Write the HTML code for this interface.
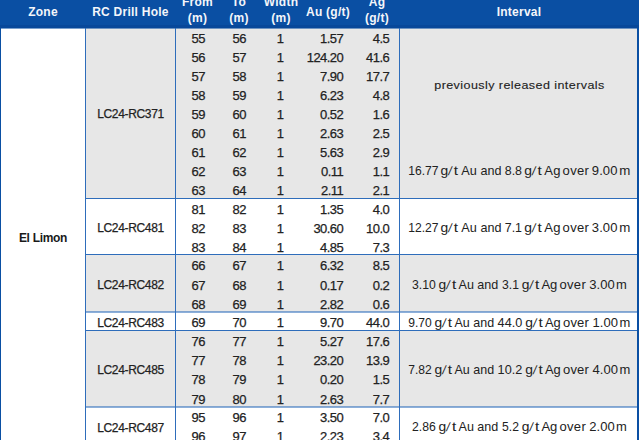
<!DOCTYPE html>
<html><head><meta charset="utf-8"><title>table</title>
<style>
html,body{margin:0;padding:0;}
body{width:640px;height:440px;overflow:hidden;background:#fff;position:relative;font-family:"Liberation Sans",sans-serif;font-size:12px;color:#222;}
div{position:absolute;white-space:nowrap;}
.hd{left:0;top:0;width:639px;height:28px;background:#0a4fa3;}
.h{color:#f4f6fa;font-weight:bold;font-size:12px;line-height:16px;text-align:center;letter-spacing:0.25px;}
.g{background:#e7e7e7;left:86px;width:551px;}
.hl{left:86px;width:551px;height:1px;background:#2e6dbb;}
.vl{top:28px;height:412px;width:1px;background:#2e6dbb;}
.t{height:19px;line-height:19px;-webkit-text-stroke:0.25px #222;}
.n{font-size:13px;letter-spacing:-0.55px;}
.c{text-align:center;width:60px;margin-left:-30px;}
.r{text-align:right;width:60px;margin-left:-60px;}
.hole{left:86px;width:89px;text-align:center;letter-spacing:-0.33px;}
.iv{left:401px;width:237px;text-align:center;}
.ivn{word-spacing:-1.6px;}
.gt{letter-spacing:2.7px;margin-right:-2.7px;}
.dg{letter-spacing:0.4px;margin-right:-0.4px;}
.wd{letter-spacing:0.7px;margin-right:-0.7px;}
.z{left:1px;width:84px;text-align:center;font-weight:bold;letter-spacing:-0.32px;color:#1a1a1a;-webkit-text-stroke:0;}
</style></head><body>

<div class="g" style="top:28px;height:171px"></div>
<div class="g" style="top:255px;height:57px"></div>
<div class="g" style="top:331px;height:76px"></div>
<div class="hd"></div>
<div style="left:0;top:25px;width:639px;height:3px;background:rgba(0,20,80,0.10)"></div>
<div style="left:0;top:28px;width:639px;height:1px;background:#0a4fa3;opacity:0.55"></div>
<div class="h c" style="left:43px;top:4px;width:100px;margin-left:-50px">Zone</div>
<div class="h c" style="left:130.5px;top:4px;width:100px;margin-left:-50px">RC Drill Hole</div>
<div class="h c" style="left:197.5px;top:-6px;width:100px;margin-left:-50px">From<br>(m)</div>
<div class="h c" style="left:239px;top:-6px;width:100px;margin-left:-50px">To<br>(m)</div>
<div class="h c" style="left:281px;top:-6px;width:100px;margin-left:-50px">Width<br>(m)</div>
<div class="h c" style="left:328px;top:4px;width:100px;margin-left:-50px">Au (g/t)</div>
<div class="h c" style="left:377px;top:-6px;width:100px;margin-left:-50px">Ag<br>(g/t)</div>
<div class="h c" style="left:519px;top:4px;width:100px;margin-left:-50px">Interval</div>
<div class="hl" style="top:198px;height:1px;opacity:1"></div>
<div class="hl" style="top:254px;height:1px;opacity:1"></div>
<div class="hl" style="top:311px;height:2px;opacity:0.55"></div>
<div class="hl" style="top:330px;height:1px;opacity:1"></div>
<div class="hl" style="top:406px;height:2px;opacity:0.55"></div>
<div class="vl" style="left:85px"></div>
<div class="vl" style="left:175px"></div>
<div class="vl" style="left:399px"></div>
<div style="left:0;top:28px;width:1px;height:412px;background:#0a4fa3"></div>
<div style="left:637px;top:28px;width:2px;height:412px;background:#0a4fa3"></div>
<div class="t n c" style="left:198.2px;top:29px">55</div>
<div class="t n c" style="left:239.2px;top:29px">56</div>
<div class="t n c" style="left:280.2px;top:29px">1</div>
<div class="t n r" style="left:343.2px;top:29px">1.57</div>
<div class="t n r" style="left:389.2px;top:29px">4.5</div>
<div class="t n c" style="left:198.2px;top:48px">56</div>
<div class="t n c" style="left:239.2px;top:48px">57</div>
<div class="t n c" style="left:280.2px;top:48px">1</div>
<div class="t n r" style="left:343.2px;top:48px">124.20</div>
<div class="t n r" style="left:389.2px;top:48px">41.6</div>
<div class="t n c" style="left:198.2px;top:67px">57</div>
<div class="t n c" style="left:239.2px;top:67px">58</div>
<div class="t n c" style="left:280.2px;top:67px">1</div>
<div class="t n r" style="left:343.2px;top:67px">7.90</div>
<div class="t n r" style="left:389.2px;top:67px">17.7</div>
<div class="t n c" style="left:198.2px;top:86px">58</div>
<div class="t n c" style="left:239.2px;top:86px">59</div>
<div class="t n c" style="left:280.2px;top:86px">1</div>
<div class="t n r" style="left:343.2px;top:86px">6.23</div>
<div class="t n r" style="left:389.2px;top:86px">4.8</div>
<div class="t n c" style="left:198.2px;top:105px">59</div>
<div class="t n c" style="left:239.2px;top:105px">60</div>
<div class="t n c" style="left:280.2px;top:105px">1</div>
<div class="t n r" style="left:343.2px;top:105px">0.52</div>
<div class="t n r" style="left:389.2px;top:105px">1.6</div>
<div class="t n c" style="left:198.2px;top:124px">60</div>
<div class="t n c" style="left:239.2px;top:124px">61</div>
<div class="t n c" style="left:280.2px;top:124px">1</div>
<div class="t n r" style="left:343.2px;top:124px">2.63</div>
<div class="t n r" style="left:389.2px;top:124px">2.5</div>
<div class="t n c" style="left:198.2px;top:143px">61</div>
<div class="t n c" style="left:239.2px;top:143px">62</div>
<div class="t n c" style="left:280.2px;top:143px">1</div>
<div class="t n r" style="left:343.2px;top:143px">5.63</div>
<div class="t n r" style="left:389.2px;top:143px">2.9</div>
<div class="t n c" style="left:198.2px;top:162px">62</div>
<div class="t n c" style="left:239.2px;top:162px">63</div>
<div class="t n c" style="left:280.2px;top:162px">1</div>
<div class="t n r" style="left:343.2px;top:162px">0.11</div>
<div class="t n r" style="left:389.2px;top:162px">1.1</div>
<div class="t n c" style="left:198.2px;top:181px">63</div>
<div class="t n c" style="left:239.2px;top:181px">64</div>
<div class="t n c" style="left:280.2px;top:181px">1</div>
<div class="t n r" style="left:343.2px;top:181px">2.11</div>
<div class="t n r" style="left:389.2px;top:181px">2.1</div>
<div class="t n c" style="left:198.2px;top:200px">81</div>
<div class="t n c" style="left:239.2px;top:200px">82</div>
<div class="t n c" style="left:280.2px;top:200px">1</div>
<div class="t n r" style="left:343.2px;top:200px">1.35</div>
<div class="t n r" style="left:389.2px;top:200px">4.0</div>
<div class="t n c" style="left:198.2px;top:219px">82</div>
<div class="t n c" style="left:239.2px;top:219px">83</div>
<div class="t n c" style="left:280.2px;top:219px">1</div>
<div class="t n r" style="left:343.2px;top:219px">30.60</div>
<div class="t n r" style="left:389.2px;top:219px">10.0</div>
<div class="t n c" style="left:198.2px;top:238px">83</div>
<div class="t n c" style="left:239.2px;top:238px">84</div>
<div class="t n c" style="left:280.2px;top:238px">1</div>
<div class="t n r" style="left:343.2px;top:238px">4.85</div>
<div class="t n r" style="left:389.2px;top:238px">7.3</div>
<div class="t n c" style="left:198.2px;top:256px">66</div>
<div class="t n c" style="left:239.2px;top:256px">67</div>
<div class="t n c" style="left:280.2px;top:256px">1</div>
<div class="t n r" style="left:343.2px;top:256px">6.32</div>
<div class="t n r" style="left:389.2px;top:256px">8.5</div>
<div class="t n c" style="left:198.2px;top:276px">67</div>
<div class="t n c" style="left:239.2px;top:276px">68</div>
<div class="t n c" style="left:280.2px;top:276px">1</div>
<div class="t n r" style="left:343.2px;top:276px">0.17</div>
<div class="t n r" style="left:389.2px;top:276px">0.2</div>
<div class="t n c" style="left:198.2px;top:295px">68</div>
<div class="t n c" style="left:239.2px;top:295px">69</div>
<div class="t n c" style="left:280.2px;top:295px">1</div>
<div class="t n r" style="left:343.2px;top:295px">2.82</div>
<div class="t n r" style="left:389.2px;top:295px">0.6</div>
<div class="t n c" style="left:198.2px;top:313px">69</div>
<div class="t n c" style="left:239.2px;top:313px">70</div>
<div class="t n c" style="left:280.2px;top:313px">1</div>
<div class="t n r" style="left:343.2px;top:313px">9.70</div>
<div class="t n r" style="left:389.2px;top:313px">44.0</div>
<div class="t n c" style="left:198.2px;top:332px">76</div>
<div class="t n c" style="left:239.2px;top:332px">77</div>
<div class="t n c" style="left:280.2px;top:332px">1</div>
<div class="t n r" style="left:343.2px;top:332px">5.27</div>
<div class="t n r" style="left:389.2px;top:332px">17.6</div>
<div class="t n c" style="left:198.2px;top:351px">77</div>
<div class="t n c" style="left:239.2px;top:351px">78</div>
<div class="t n c" style="left:280.2px;top:351px">1</div>
<div class="t n r" style="left:343.2px;top:351px">23.20</div>
<div class="t n r" style="left:389.2px;top:351px">13.9</div>
<div class="t n c" style="left:198.2px;top:370px">78</div>
<div class="t n c" style="left:239.2px;top:370px">79</div>
<div class="t n c" style="left:280.2px;top:370px">1</div>
<div class="t n r" style="left:343.2px;top:370px">0.20</div>
<div class="t n r" style="left:389.2px;top:370px">1.5</div>
<div class="t n c" style="left:198.2px;top:390px">79</div>
<div class="t n c" style="left:239.2px;top:390px">80</div>
<div class="t n c" style="left:280.2px;top:390px">1</div>
<div class="t n r" style="left:343.2px;top:390px">2.63</div>
<div class="t n r" style="left:389.2px;top:390px">7.7</div>
<div class="t n c" style="left:198.2px;top:408px">95</div>
<div class="t n c" style="left:239.2px;top:408px">96</div>
<div class="t n c" style="left:280.2px;top:408px">1</div>
<div class="t n r" style="left:343.2px;top:408px">3.50</div>
<div class="t n r" style="left:389.2px;top:408px">7.0</div>
<div class="t n c" style="left:198.2px;top:427px">96</div>
<div class="t n c" style="left:239.2px;top:427px">97</div>
<div class="t n c" style="left:280.2px;top:427px">1</div>
<div class="t n r" style="left:343.2px;top:427px">2.23</div>
<div class="t n r" style="left:389.2px;top:427px">3.4</div>
<div class="t hole" style="top:105px">LC24-RC371</div>
<div class="t hole" style="top:219px">LC24-RC481</div>
<div class="t hole" style="top:276px">LC24-RC482</div>
<div class="t hole" style="top:314px">LC24-RC483</div>
<div class="t hole" style="top:360.5px">LC24-RC485</div>
<div class="t hole" style="top:418.5px">LC24-RC487</div>
<div class="t iv" style="top:75px;font-size:11.6px;letter-spacing:0.4px;transform:scaleX(1.08);-webkit-text-stroke:0.12px #222">previously released intervals</div>
<svg width="640" height="440" viewBox="0 0 640 440" style="position:absolute;left:0;top:0" font-family="Liberation Sans, sans-serif" font-size="12.2" fill="#222">
<text x="408.25" y="174.70" textLength="30.25" lengthAdjust="spacingAndGlyphs">16.77</text>
<text x="440.45" y="174.70" textLength="7.70" lengthAdjust="spacingAndGlyphs">g</text>
<text x="453.80" y="174.70" textLength="4.30" lengthAdjust="spacingAndGlyphs">t</text>
<text transform="translate(447.75,174.70) skewX(-10)">/</text>
<text x="461.25" y="174.70" textLength="15.50" lengthAdjust="spacingAndGlyphs">Au</text>
<text x="480.40" y="174.70" textLength="21.00" lengthAdjust="spacingAndGlyphs">and</text>
<text x="504.75" y="174.70" textLength="17.25" lengthAdjust="spacingAndGlyphs">8.8</text>
<text x="524.15" y="174.70" textLength="7.70" lengthAdjust="spacingAndGlyphs">g</text>
<text x="537.50" y="174.70" textLength="4.30" lengthAdjust="spacingAndGlyphs">t</text>
<text transform="translate(531.45,174.70) skewX(-10)">/</text>
<text transform="translate(544.30,174.70) scale(1.07,1)" textLength="15.14" lengthAdjust="spacing">Ag</text>
<text transform="translate(562.60,174.70) scale(1.07,1)" textLength="24.58" lengthAdjust="spacing">over</text>
<text transform="translate(591.80,174.70) scale(1.07,1)" textLength="24.02" lengthAdjust="spacing">9.00</text>
<text x="619.20" y="174.70" textLength="11.10" lengthAdjust="spacingAndGlyphs">m</text>
<text x="408.25" y="231.70" textLength="30.25" lengthAdjust="spacingAndGlyphs">12.27</text>
<text x="440.45" y="231.70" textLength="7.70" lengthAdjust="spacingAndGlyphs">g</text>
<text x="453.80" y="231.70" textLength="4.30" lengthAdjust="spacingAndGlyphs">t</text>
<text transform="translate(447.75,231.70) skewX(-10)">/</text>
<text x="461.25" y="231.70" textLength="15.50" lengthAdjust="spacingAndGlyphs">Au</text>
<text x="480.40" y="231.70" textLength="21.00" lengthAdjust="spacingAndGlyphs">and</text>
<text x="504.75" y="231.70" textLength="17.25" lengthAdjust="spacingAndGlyphs">7.1</text>
<text x="524.15" y="231.70" textLength="7.70" lengthAdjust="spacingAndGlyphs">g</text>
<text x="537.50" y="231.70" textLength="4.30" lengthAdjust="spacingAndGlyphs">t</text>
<text transform="translate(531.45,231.70) skewX(-10)">/</text>
<text transform="translate(544.30,231.70) scale(1.07,1)" textLength="15.14" lengthAdjust="spacing">Ag</text>
<text transform="translate(562.60,231.70) scale(1.07,1)" textLength="24.58" lengthAdjust="spacing">over</text>
<text transform="translate(591.80,231.70) scale(1.07,1)" textLength="24.02" lengthAdjust="spacing">3.00</text>
<text x="619.20" y="231.70" textLength="11.10" lengthAdjust="spacingAndGlyphs">m</text>
<text x="412.00" y="288.70" textLength="23.75" lengthAdjust="spacingAndGlyphs">3.10</text>
<text x="438.55" y="288.70" textLength="7.70" lengthAdjust="spacingAndGlyphs">g</text>
<text x="451.90" y="288.70" textLength="4.30" lengthAdjust="spacingAndGlyphs">t</text>
<text transform="translate(445.85,288.70) skewX(-10)">/</text>
<text x="458.50" y="288.70" textLength="15.40" lengthAdjust="spacingAndGlyphs">Au</text>
<text x="477.25" y="288.70" textLength="21.00" lengthAdjust="spacingAndGlyphs">and</text>
<text x="502.00" y="288.70" textLength="16.90" lengthAdjust="spacingAndGlyphs">3.1</text>
<text x="521.65" y="288.70" textLength="7.70" lengthAdjust="spacingAndGlyphs">g</text>
<text x="535.00" y="288.70" textLength="4.30" lengthAdjust="spacingAndGlyphs">t</text>
<text transform="translate(528.95,288.70) skewX(-10)">/</text>
<text transform="translate(541.40,288.70) scale(1.07,1)" textLength="14.95" lengthAdjust="spacing">Ag</text>
<text transform="translate(559.50,288.70) scale(1.07,1)" textLength="24.58" lengthAdjust="spacing">over</text>
<text transform="translate(589.20,288.70) scale(1.07,1)" textLength="23.83" lengthAdjust="spacing">3.00</text>
<text x="616.10" y="288.70" textLength="10.80" lengthAdjust="spacingAndGlyphs">m</text>
<text x="408.20" y="326.70" textLength="23.50" lengthAdjust="spacingAndGlyphs">9.70</text>
<text x="434.45" y="326.70" textLength="7.70" lengthAdjust="spacingAndGlyphs">g</text>
<text x="447.80" y="326.70" textLength="4.30" lengthAdjust="spacingAndGlyphs">t</text>
<text transform="translate(441.75,326.70) skewX(-10)">/</text>
<text x="454.50" y="326.70" textLength="15.25" lengthAdjust="spacingAndGlyphs">Au</text>
<text x="473.25" y="326.70" textLength="20.85" lengthAdjust="spacingAndGlyphs">and</text>
<text x="497.60" y="326.70" textLength="24.65" lengthAdjust="spacingAndGlyphs">44.0</text>
<text x="525.15" y="326.70" textLength="7.70" lengthAdjust="spacingAndGlyphs">g</text>
<text x="538.50" y="326.70" textLength="4.30" lengthAdjust="spacingAndGlyphs">t</text>
<text transform="translate(532.45,326.70) skewX(-10)">/</text>
<text x="545.00" y="326.70" textLength="15.80" lengthAdjust="spacingAndGlyphs">Ag</text>
<text transform="translate(563.00,326.70) scale(1.07,1)" textLength="24.21" lengthAdjust="spacing">over</text>
<text transform="translate(592.40,326.70) scale(1.07,1)" textLength="23.93" lengthAdjust="spacing">1.00</text>
<text x="619.50" y="326.70" textLength="10.80" lengthAdjust="spacingAndGlyphs">m</text>
<text x="408.20" y="374.20" textLength="23.50" lengthAdjust="spacingAndGlyphs">7.82</text>
<text x="434.45" y="374.20" textLength="7.70" lengthAdjust="spacingAndGlyphs">g</text>
<text x="447.80" y="374.20" textLength="4.30" lengthAdjust="spacingAndGlyphs">t</text>
<text transform="translate(441.75,374.20) skewX(-10)">/</text>
<text x="454.50" y="374.20" textLength="15.25" lengthAdjust="spacingAndGlyphs">Au</text>
<text x="473.25" y="374.20" textLength="20.85" lengthAdjust="spacingAndGlyphs">and</text>
<text x="497.60" y="374.20" textLength="24.65" lengthAdjust="spacingAndGlyphs">10.2</text>
<text x="525.15" y="374.20" textLength="7.70" lengthAdjust="spacingAndGlyphs">g</text>
<text x="538.50" y="374.20" textLength="4.30" lengthAdjust="spacingAndGlyphs">t</text>
<text transform="translate(532.45,374.20) skewX(-10)">/</text>
<text x="545.00" y="374.20" textLength="15.80" lengthAdjust="spacingAndGlyphs">Ag</text>
<text transform="translate(563.00,374.20) scale(1.07,1)" textLength="24.21" lengthAdjust="spacing">over</text>
<text transform="translate(592.40,374.20) scale(1.07,1)" textLength="23.93" lengthAdjust="spacing">4.00</text>
<text x="619.50" y="374.20" textLength="10.80" lengthAdjust="spacingAndGlyphs">m</text>
<text x="412.00" y="431.20" textLength="23.75" lengthAdjust="spacingAndGlyphs">2.86</text>
<text x="438.55" y="431.20" textLength="7.70" lengthAdjust="spacingAndGlyphs">g</text>
<text x="451.90" y="431.20" textLength="4.30" lengthAdjust="spacingAndGlyphs">t</text>
<text transform="translate(445.85,431.20) skewX(-10)">/</text>
<text x="458.50" y="431.20" textLength="15.40" lengthAdjust="spacingAndGlyphs">Au</text>
<text x="477.25" y="431.20" textLength="21.00" lengthAdjust="spacingAndGlyphs">and</text>
<text x="502.00" y="431.20" textLength="16.90" lengthAdjust="spacingAndGlyphs">5.2</text>
<text x="521.65" y="431.20" textLength="7.70" lengthAdjust="spacingAndGlyphs">g</text>
<text x="535.00" y="431.20" textLength="4.30" lengthAdjust="spacingAndGlyphs">t</text>
<text transform="translate(528.95,431.20) skewX(-10)">/</text>
<text transform="translate(541.40,431.20) scale(1.07,1)" textLength="14.95" lengthAdjust="spacing">Ag</text>
<text transform="translate(559.50,431.20) scale(1.07,1)" textLength="24.58" lengthAdjust="spacing">over</text>
<text transform="translate(589.20,431.20) scale(1.07,1)" textLength="23.83" lengthAdjust="spacing">2.00</text>
<text x="616.10" y="431.20" textLength="10.80" lengthAdjust="spacingAndGlyphs">m</text>
</svg>
<div class="t z" style="top:228.5px">El Limon</div>
</body></html>
